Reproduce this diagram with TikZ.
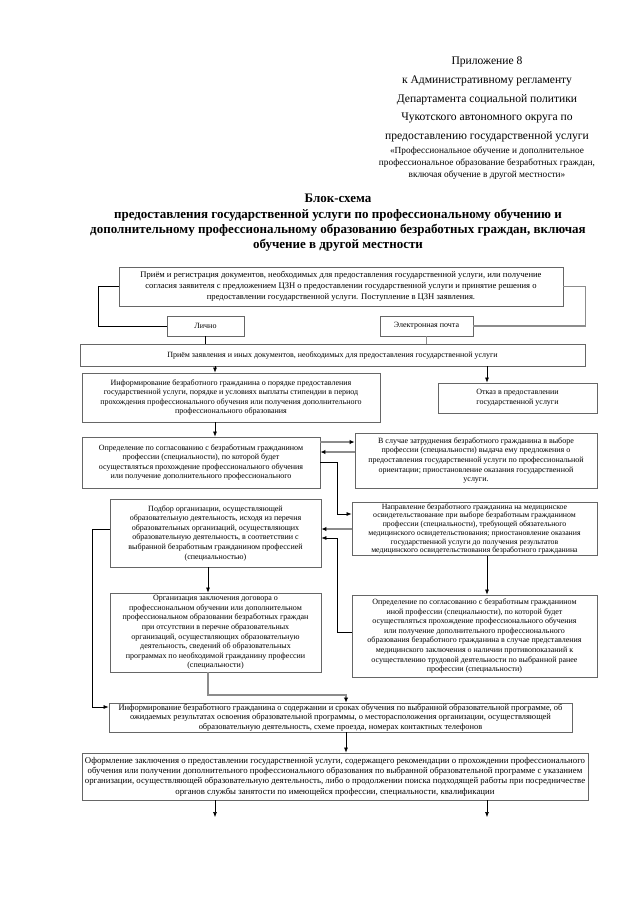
\documentclass[tikz,border=0pt]{standalone}
\usepackage{fontspec}
\setmainfont{Liberation Serif}
\usetikzlibrary{calc,arrows.meta}
\newcommand{\schfont}{\fontsize{8}{9.6}\selectfont}

\begin{document}
\begin{tikzpicture}[x=1pt, y=-1pt,
  box/.style={draw=black!60, line width=0.9pt, fill=white, align=center,
              font=\schfont, inner sep=1pt},
  ln/.style={black, line width=0.6pt},
  gln/.style={black!45, line width=1.3pt},
  arr/.style={ln, -{Latex[length=5pt,width=4pt]}},
  garr/.style={gln, -{Latex[length=5pt,width=4.5pt,black]}},
]
\useasboundingbox (0,0) rectangle (640,905);

% heading
\node[align=center, font=\fontsize{11.6}{18.8}\selectfont] (app) at (487,99.5)
  {Приложение 8\\ к Административному регламенту\\ Департамента социальной политики\\
   Чукотского автономного округа по\\ предоставлению государственной услуги};
\node[align=center, font=\fontsize{9.3}{12}\selectfont] (appsub) at (487,163)
  {«Профессиональное обучение и дополнительное\\ профессиональное образование безработных граждан,\\
   включая обучение в другой местности»};
\node[align=center, font=\fontsize{13}{15.4}\selectfont\bfseries] (ttl) at (338,223)
  {Блок-схема\\ предоставления государственной услуги по профессиональному обучению и\\
   дополнительному профессиональному образованию безработных граждан, включая\\
   обучение в другой местности};

% boxes
\node[box, minimum width=444pt, minimum height=39pt, font=\fontsize{8.6}{10.8}\selectfont] (prm) at (341,286.5)
  {Приём и регистрация документов, необходимых для предоставления государственной услуги, или получение\\
   согласия заявителя с предложением ЦЗН о предоставлении государственной услуги и принятие решения о\\
   предоставлении государственной услуги. Поступление в ЦЗН заявления.};
\node[box, minimum width=77pt, minimum height=20pt] (lichno) at (205.5,326) {Лично};
\node[box, minimum width=93pt, minimum height=20pt] (email) at (426.5,326) {Электронная почта};
\node[box, minimum width=505pt, minimum height=22pt] (zayav) at (332.5,355)
  {Приём заявления и иных документов, необходимых для предоставления государственной услуги};
\node[box, minimum width=298pt, minimum height=49pt] (info1) at (231,397.5)
  {Информирование безработного гражданина о порядке предоставления\\
   государственной услуги, порядке и условиях выплаты стипендии в период\\
   прохождения профессионального обучения или получения  дополнительного\\
   профессионального образования};
\node[box, minimum width=159pt, minimum height=30pt] (otkaz) at (517.5,398)
  {Отказ в предоставлении\\ государственной услуги};
\node[box, minimum width=238pt, minimum height=51pt] (opr1) at (201,462.5)
  {Определение по согласованию с безработным гражданином\\
   профессии (специальности), по которой будет\\
   осуществляться прохождение профессионального обучения\\
   или получение дополнительного профессионального};
\node[box, minimum width=242pt, minimum height=55pt] (vsl) at (476,460.5)
  {В случае затруднения безработного гражданина в выборе\\
   профессии (специальности) выдача ему предложения о\\
   предоставления государственной услуги по профессиональной\\
   ориентации; приостановление оказания государственной\\ услуги.};
\node[box, minimum width=211pt, minimum height=68pt] (podbor) at (215.5,533)
  {Подбор организации, осуществляющей\\
   образовательную деятельность, исходя из перечня\\
   образовательных организаций, осуществляющих\\
   образовательную деятельность, в соответствии с\\
   выбранной безработным гражданином профессией\\ (специальностью)};
\node[box, minimum width=245pt, minimum height=53pt, font=\fontsize{7.8}{8.7}\selectfont] (napr) at (474.5,529)
  {Направление безработного гражданина на медицинское\\
   освидетельствование при выборе безработным гражданином\\
   профессии (специальности), требующей обязательного\\
   медицинского освидетельствования; приостановление оказания\\
   государственной услуги до получения результатов\\
   медицинского освидетельствования безработного гражданина};
\node[box, minimum width=211pt, minimum height=79pt] (org) at (215.5,632.5)
  {Организация заключения договора о\\
   профессиональном обучении или дополнительном\\
   профессиональном образовании безработных граждан\\
   при отсутствии в перечне образовательных\\
   организаций, осуществляющих образовательную\\
   деятельность, сведений об образовательных\\
   программах по необходимой гражданину профессии\\ (специальности)};
\node[box, minimum width=245pt, minimum height=82pt] (opr2) at (474.5,636)
  {Определение по согласованию с безработным гражданином\\
   иной профессии (специальности), по которой будет\\
   осуществляться прохождение профессионального обучения\\
   или получение дополнительного профессионального\\
   образования безработного гражданина в случае представления\\
   медицинского заключения о наличии противопоказаний к\\
   осуществлению трудовой деятельности по выбранной ранее\\
   профессии (специальности)};
\node[box, minimum width=463pt, minimum height=29pt, font=\fontsize{8.4}{9.6}\selectfont] (info2) at (340.5,717.5)
  {Информирование безработного гражданина о содержании и сроках обучения по  выбранной  образовательной программе, об\\
   ожидаемых результатах освоения  образовательной программы, о месторасположения организации,  осуществляющей\\
   образовательную  деятельность,  схеме проезда, номерах контактных телефонов};
\node[box, minimum width=506pt, minimum height=47pt, font=\fontsize{8.8}{10.4}\selectfont] (final) at (335,776.5)
  {Оформление заключения о предоставлении государственной услуги, содержащего рекомендации о прохождении профессионального\\
   обучения или получении дополнительного профессионального образования по выбранной образовательной программе с указанием\\
   организации, осуществляющей образовательную деятельность, либо о продолжении поиска подходящей работы при посредничестве\\
   органов службы занятости по имеющейся профессии, специальности, квалификации};

% helper coordinates for connector lines
\coordinate (lx) at (215,0);
\coordinate (rx) at (487,0);
\coordinate (mx) at (337,0);
\coordinate (lf) at (92,0);
\coordinate (ox) at (208,0);
\coordinate (bx) at (346,0);
\coordinate (ya) at (0,442);
\coordinate (yb) at (0,452);
\coordinate (yc) at (0,462);
\coordinate (yd) at (0,514);
\coordinate (ye) at (0,529);
\coordinate (yf) at (0,632);
\coordinate (yg) at (0,538);
\coordinate (yh) at (0,707);
\coordinate (yi) at (0,695);
\coordinate (endl) at (215,817);
\coordinate (endr) at (487,817);

% connectors
\draw[ln]  (prm.west) -- ++(-20,0) |- (lichno.west);
\draw[gln] (prm.east) -- ++(22,0) |- (email.east);
\draw[ln]  (lichno.south) -- (zayav.north -| lichno.south);
\draw[gln] (email.south) -- (zayav.north -| email.south);
\draw[arr] (zayav.south -| lx) -- (info1.north -| lx);
\draw[arr] (zayav.south -| rx) -- (otkaz.north -| rx);
\draw[arr] (info1.south -| lx) -- (opr1.north -| lx);
\draw[garr] (opr1.east |- ya) -- (vsl.west |- ya);
\draw[garr] (vsl.west |- yb) -- (opr1.east |- yb);
\draw[arr] (opr1.east |- yc) -| (mx |- yd) -- (napr.west |- yd);
\draw[garr] (napr.west |- ye) -- (podbor.east |- ye);
\draw[arr] (opr2.west |- yf) -| (mx |- yg) -- (podbor.east |- yg);
\draw[arr] (podbor.west |- ye) -| (lf |- yh) -- (info2.west |- yh);
\draw[arr] (podbor.south -| ox) -- (org.north -| ox);
\draw[arr] (napr.south -| rx) -- (opr2.north -| rx);
\draw[garr] (org.south -| ox) |- (bx |- yi) -- (info2.north -| bx);
\draw[arr] (info2.south -| bx) -- (final.north -| bx);
\draw[arr] (final.south -| endl) -- (endl);
\draw[arr] (final.south -| endr) -- (endr);
\end{tikzpicture}
\end{document}
